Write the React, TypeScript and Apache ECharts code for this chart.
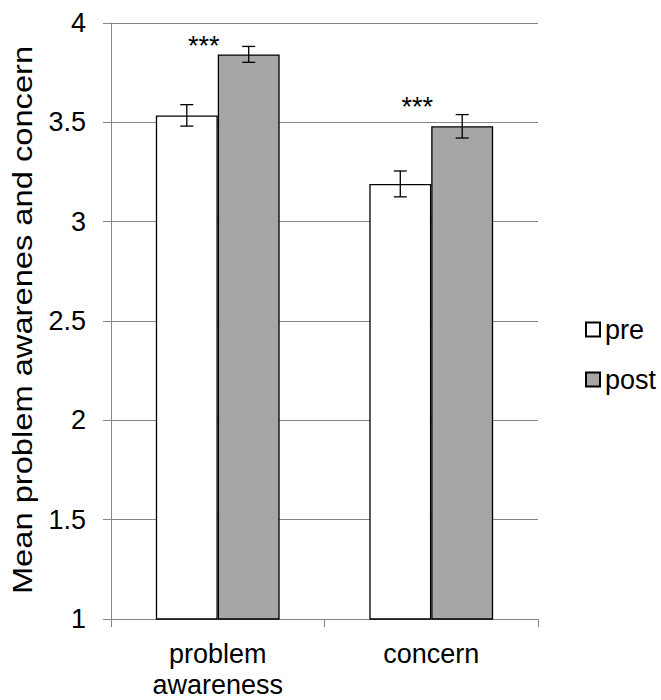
import React, { useEffect, useRef } from "react";
import * as echarts from "echarts";

const categories = ["problem\nawareness", "concern"];
const preValues = [3.535, 3.19];
const postValues = [3.842, 3.48];
const preErrors = [0.054, 0.065];
const postErrors = [0.04, 0.059];
const significance = ["***", "***"];
const seriesNames = ["pre", "post"];
const yTicks = { min: 1, max: 4, interval: 0.5 };
const yTitle = "Mean problem awarenes and concern";

const FONT = "'Liberation Sans', Arial, sans-serif";
const CAT_GAP = 0.42;
const FS = 27;

export default function App() {
  const ref = useRef<HTMLDivElement>(null);
  useEffect(() => {
    if (!ref.current) return;
    const chart = echarts.init(ref.current, null, { renderer: "svg" });

    const errData = (vals: number[], errs: number[], side: number) =>
      vals.map((v, i) => [i, v, errs[i], side]);

    const renderErr = (params: any, api: any) => {
      const cat = api.value(0);
      const val = api.value(1);
      const err = api.value(2);
      const side = api.value(3);
      const band = api.size([1, 0])[0];
      const bw = (band * (1 - CAT_GAP)) / 2;
      const c = api.coord([cat, val]);
      const x = c[0] + side * (bw / 2);
      const top = api.coord([cat, val + err])[1];
      const bot = api.coord([cat, val - err])[1];
      const half = 6.5;
      const style = { stroke: "#000", lineWidth: 1.3 };
      return {
        type: "group",
        children: [
          { type: "line", shape: { x1: x, y1: top, x2: x, y2: bot }, style },
          { type: "line", shape: { x1: x - half, y1: top, x2: x + half, y2: top }, style },
          { type: "line", shape: { x1: x - half, y1: bot, x2: x + half, y2: bot }, style },
        ],
      };
    };

    const starOffsets = [
      [-45, 10],
      [-45, -1],
    ];

    chart.setOption({
      animation: false,
      textStyle: { fontFamily: FONT },
      grid: { left: 111, right: 123, top: 23, height: 596 },
      graphic: [
        {
          type: "text",
          x: 23,
          y: 320,
          rotation: Math.PI / 2,
          scaleX: 1.21,
          style: {
            text: yTitle,
            fontFamily: FONT,
            fontSize: FS,
            fill: "#000",
            align: "center",
            verticalAlign: "middle",
          },
        },
      ],
      legend: {
        orient: "vertical",
        left: 580,
        top: 311,
        itemWidth: 14,
        itemHeight: 14,
        itemGap: 23,
        icon: "rect",
        textStyle: { fontFamily: FONT, fontSize: FS, color: "#000" },
        data: seriesNames,
      },
      xAxis: {
        type: "category",
        data: categories,
        axisLine: { lineStyle: { color: "#868686", width: 1 } },
        axisTick: { show: true, length: 8, lineStyle: { color: "#868686" } },
        axisLabel: {
          fontFamily: FONT,
          fontSize: FS,
          color: "#000",
          margin: 19,
          lineHeight: 31,
        },
      },
      yAxis: {
        type: "value",
        min: yTicks.min,
        max: yTicks.max,
        interval: yTicks.interval,
        axisLine: { show: true, lineStyle: { color: "#868686", width: 1 } },
        axisTick: { show: true, length: 8, lineStyle: { color: "#868686" } },
        splitLine: { lineStyle: { color: "#868686", width: 1 } },
        axisLabel: {
          fontFamily: FONT,
          fontSize: FS,
          color: "#000",
          margin: 25,
          formatter: (v: number) => String(v),
        },
      },
      series: [
        {
          name: seriesNames[0],
          type: "bar",
          data: preValues,
          barGap: "0%",
          barCategoryGap: CAT_GAP * 100 + "%",
          itemStyle: { color: "#ffffff", borderColor: "#000", borderWidth: 1.3 },
        },
        {
          name: seriesNames[1],
          type: "bar",
          barGap: "0%",
          barCategoryGap: CAT_GAP * 100 + "%",
          data: postValues.map((v, i) => ({
            value: v,
            label: {
              show: true,
              position: "top",
              formatter: significance[i],
              offset: starOffsets[i],
              fontFamily: FONT,
              fontSize: FS,
              color: "#000",
            },
          })),
          itemStyle: { color: "#a6a6a6", borderColor: "#000", borderWidth: 1.3 },
        },
        {
          type: "custom",
          renderItem: renderErr,
          data: errData(preValues, preErrors, -1),
          z: 10,
          silent: true,
        },
        {
          type: "custom",
          renderItem: renderErr,
          data: errData(postValues, postErrors, 1),
          z: 10,
          silent: true,
        },
      ],
    });
    return () => chart.dispose();
  }, []);
  return (
    <div
      ref={ref}
      style={{ position: "absolute", left: 0, top: 0, width: 661, height: 700 }}
    />
  );
}
